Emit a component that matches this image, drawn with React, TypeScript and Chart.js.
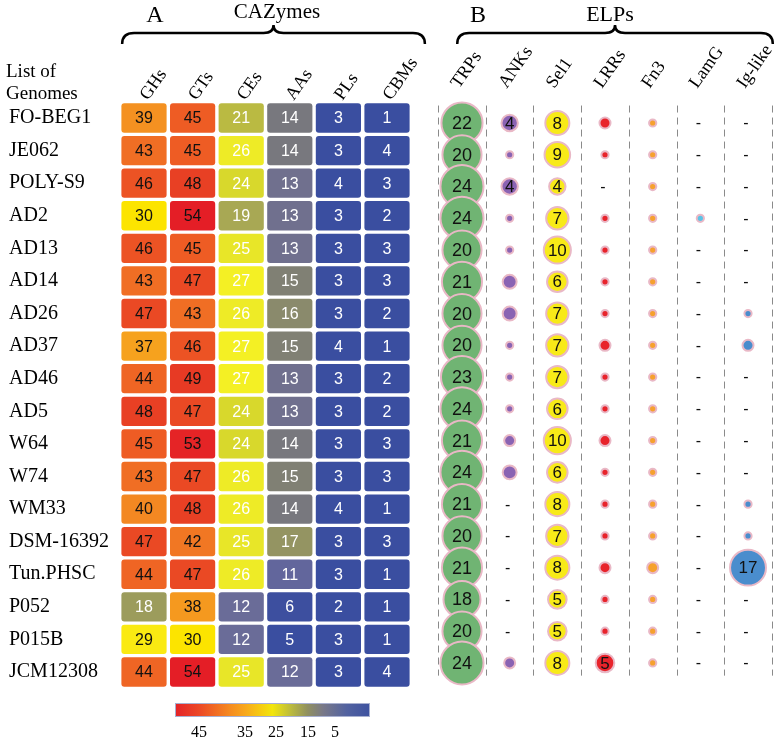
import React, { useEffect, useRef } from 'react';
import { Chart, registerables } from 'chart.js';

Chart.register(...registerables);

// ---------- DATA ----------
const genomes = ['FO-BEG1', 'JE062', 'POLY-S9', 'AD2', 'AD13', 'AD14', 'AD26', 'AD37', 'AD46', 'AD5', 'W64', 'W74', 'WM33', 'DSM-16392', 'Tun.PHSC', 'P052', 'P015B', 'JCM12308'];

const cazyCategories = ['GHs', 'GTs', 'CEs', 'AAs', 'PLs', 'CBMs'];
const GHs = [39, 43, 46, 30, 46, 43, 47, 37, 44, 48, 45, 43, 40, 47, 44, 18, 29, 44];
const GTs = [45, 45, 48, 54, 45, 47, 43, 46, 49, 47, 53, 47, 48, 42, 47, 38, 30, 54];
const CEs = [21, 26, 24, 19, 25, 27, 26, 27, 27, 24, 24, 26, 26, 25, 26, 12, 12, 25];
const AAs = [14, 14, 13, 13, 13, 15, 16, 15, 13, 13, 14, 15, 14, 17, 11, 6, 5, 12];
const PLs = [3, 3, 4, 3, 3, 3, 3, 4, 3, 3, 3, 3, 4, 3, 3, 2, 3, 3];
const CBMs = [1, 4, 3, 2, 3, 3, 2, 1, 2, 2, 3, 3, 1, 3, 1, 1, 1, 4];

const elpCategories = ['TRPs', 'ANKs', 'Sel1', 'LRRs', 'Fn3', 'LamG', 'Ig-like'];
const TRPs = [22, 20, 24, 24, 20, 21, 20, 20, 23, 24, 21, 24, 21, 20, 21, 18, 20, 24];
const ANKs = [4, 1, 4, 1, 1, 3, 3, 1, 1, 1, 2, 3, 0, 0, 0, 0, 0, 2];
const Sel1 = [8, 9, 4, 7, 10, 6, 7, 7, 7, 6, 10, 6, 8, 7, 8, 5, 5, 8];
const LRRs = [2, 1, 0, 1, 1, 1, 1, 2, 1, 1, 2, 1, 1, 1, 2, 1, 1, 5];
const Fn3 = [1, 1, 1, 1, 1, 1, 1, 1, 1, 1, 1, 1, 1, 1, 2, 1, 1, 1];
const LamG = [0, 0, 0, 1, 0, 0, 0, 0, 0, 0, 0, 0, 0, 0, 0, 0, 0, 0];
const IgLike = [0, 0, 0, 0, 0, 0, 1, 2, 0, 0, 0, 0, 1, 1, 17, 0, 0, 0];

const colorbarTicks = [45, 35, 25, 15, 5];

// ---------- STYLE ----------
const cazySeries = [GHs, GTs, CEs, AAs, PLs, CBMs];
const elpSeries = [TRPs, ANKs, Sel1, LRRs, Fn3, LamG, IgLike];
const elpColors = ['#70b473', '#8a63b3', '#f8ea18', '#e8232b', '#f6a12e', '#5ac3e6', '#4a8dcd'];
const bubbleBorder = '#e9b8c6';

const heatStops: [number, number[]][] = [
  [5, [58, 78, 160]],
  [8, [66, 82, 158]],
  [11, [98, 102, 156]],
  [12, [106, 108, 152]],
  [13, [112, 112, 142]],
  [14, [120, 120, 126]],
  [15, [128, 128, 116]],
  [16, [138, 138, 108]],
  [17, [148, 148, 98]],
  [18, [156, 156, 92]],
  [19, [168, 168, 84]],
  [21, [186, 186, 66]],
  [24, [216, 216, 44]],
  [25, [232, 230, 40]],
  [27, [244, 240, 36]],
  [29, [250, 234, 18]],
  [30, [252, 228, 0]],
  [37, [246, 162, 30]],
  [40, [243, 136, 34]],
  [43, [240, 110, 36]],
  [45, [238, 92, 36]],
  [48, [232, 64, 36]],
  [54, [228, 30, 38]],
];

function heatColor(v: number): string {
  if (v <= heatStops[0][0]) return `rgb(${heatStops[0][1].join(',')})`;
  for (let i = 1; i < heatStops.length; i++) {
    const [v1, c1] = heatStops[i];
    const [v0, c0] = heatStops[i - 1];
    if (v <= v1) {
      const t = (v - v0) / (v1 - v0);
      const c = c0.map((a, k) => Math.round(a + (c1[k] - a) * t));
      return `rgb(${c.join(',')})`;
    }
  }
  return `rgb(${heatStops[heatStops.length - 1][1].join(',')})`;
}

const bubbleRadius = (v: number) => 4.6 * Math.sqrt(v) - 1;

const cbLeft = 175, cbTop = 703, cbWidth = 195, cbHeight = 14;
const cbLabelX = [199, 245, 276, 308, 335];

function drawBrace(ctx: CanvasRenderingContext2D, x0: number, x1: number) {
  const xm = (x0 + x1) / 2;
  const yEnd = 44, yLine = 33, yTip = 25;
  ctx.save();
  ctx.strokeStyle = '#000';
  ctx.lineWidth = 2.5;
  ctx.beginPath();
  ctx.moveTo(x0, yEnd);
  ctx.quadraticCurveTo(x0, yLine, x0 + 12, yLine);
  ctx.lineTo(xm - 10, yLine);
  ctx.quadraticCurveTo(xm, yLine, xm, yTip);
  ctx.quadraticCurveTo(xm, yLine, xm + 10, yLine);
  ctx.lineTo(x1 - 12, yLine);
  ctx.quadraticCurveTo(x1, yLine, x1, yEnd);
  ctx.stroke();
  ctx.restore();
}

const customPlugin = {
  id: 'customDraw',
  beforeDatasetsDraw(chart: any) {
    const { ctx } = chart;
    const x = chart.scales.x, y = chart.scales.y, xb = chart.scales.xb, yb = chart.scales.yb;
    const band = y.getPixelForValue(1) - y.getPixelForValue(0);
    ctx.save();
    cazySeries.forEach((series, c) => {
      series.forEach((v, r) => {
        const cx = x.getPixelForValue(c);
        const cy = y.getPixelForValue(r);
        const left = x.getPixelForValue(c - 0.465);
        const right = x.getPixelForValue(c + 0.465);
        const h = band * 0.9;
        ctx.fillStyle = heatColor(v);
        ctx.beginPath();
        ctx.roundRect(left, cy - h / 2, right - left, h, 3);
        ctx.fill();
        ctx.fillStyle = v >= 28 ? '#111' : '#fff';
        ctx.font = '16px "Liberation Sans", Arial, sans-serif';
        ctx.textAlign = 'center';
        ctx.textBaseline = 'middle';
        ctx.fillText(String(v), cx, cy + 1);
      });
    });
    // dashed separators
    ctx.setLineDash([7, 5]);
    ctx.strokeStyle = '#8a8a8a';
    ctx.lineWidth = 1;
    for (let k = 0; k <= elpCategories.length; k++) {
      const px = Math.round(xb.getPixelForValue(k - 0.5)) + 0.5;
      ctx.beginPath();
      ctx.moveTo(px, yb.getPixelForValue(-0.55));
      ctx.lineTo(px, yb.getPixelForValue(17.4));
      ctx.stroke();
    }
    ctx.restore();
  },
  afterDatasetsDraw(chart: any) {
    const { ctx } = chart;
    const xb = chart.scales.xb, yb = chart.scales.yb;
    ctx.save();
    ctx.textAlign = 'center';
    ctx.textBaseline = 'middle';
    elpSeries.forEach((series, c) => {
      series.forEach((v, r) => {
        const px = xb.getPixelForValue(c);
        const py = yb.getPixelForValue(r);
        if (v === 0) {
          ctx.fillStyle = '#111';
          ctx.font = '16px "Liberation Sans", Arial, sans-serif';
          ctx.fillText('-', px - 2, py + 1);
        } else if (v >= 4) {
          ctx.fillStyle = '#111';
          ctx.font = (c === 0 ? '18px' : '17px') + ' "Liberation Sans", Arial, sans-serif';
          ctx.fillText(String(v), px, py + 1);
        }
      });
    });
    ctx.restore();
  },
  afterDraw(chart: any) {
    const { ctx } = chart;
    const x = chart.scales.x, xb = chart.scales.xb;
    ctx.save();
    ctx.fillStyle = '#000';
    // column headers
    ctx.font = '18px "Liberation Serif", "Times New Roman", serif';
    ctx.textAlign = 'left';
    ctx.textBaseline = 'alphabetic';
    const ang = -55 * Math.PI / 180;
    cazyCategories.forEach((lab, c) => {
      ctx.save();
      ctx.translate(x.getPixelForValue(c) + 4, 101);
      ctx.rotate(ang);
      ctx.fillText(lab, 0, 0);
      ctx.restore();
    });
    elpCategories.forEach((lab, c) => {
      ctx.save();
      ctx.translate(xb.getPixelForValue(c) - 3, 89);
      ctx.rotate(ang);
      ctx.fillText(lab, 0, 0);
      ctx.restore();
    });
    // List of Genomes
    ctx.font = '19px "Liberation Serif", "Times New Roman", serif';
    ctx.fillText('List of', 6, 77);
    ctx.fillText('Genomes', 6, 99);
    // group titles
    ctx.textAlign = 'center';
    ctx.font = '24px "Liberation Serif", "Times New Roman", serif';
    ctx.fillText('A', 155, 22);
    ctx.fillText('B', 478, 22);
    ctx.font = '21px "Liberation Serif", "Times New Roman", serif';
    ctx.fillText('CAZymes', 277, 18);
    ctx.font = '22px "Liberation Serif", "Times New Roman", serif';
    ctx.fillText('ELPs', 610, 21);
    // braces
    drawBrace(ctx, x.getPixelForValue(-0.45), x.getPixelForValue(5.78));
    drawBrace(ctx, xb.getPixelForValue(-0.1), xb.getPixelForValue(6.52));
    // colour bar
    const g = ctx.createLinearGradient(cbLeft, 0, cbLeft + cbWidth, 0);
    g.addColorStop(0, '#e42228');
    g.addColorStop(0.13, '#ec4a26');
    g.addColorStop(0.28, '#f58a20');
    g.addColorStop(0.36, '#f8a81c');
    g.addColorStop(0.44, '#f6cc10');
    g.addColorStop(0.5, '#f2e60c');
    g.addColorStop(0.6, '#b8b840');
    g.addColorStop(0.68, '#909060');
    g.addColorStop(0.76, '#787888');
    g.addColorStop(0.88, '#5262a0');
    g.addColorStop(1, '#3e52a0');
    ctx.fillStyle = g;
    ctx.fillRect(cbLeft, cbTop, cbWidth, cbHeight);
    ctx.strokeStyle = '#a8b0d0';
    ctx.lineWidth = 1;
    ctx.strokeRect(cbLeft + 0.5, cbTop + 0.5, cbWidth - 1, cbHeight - 1);
    ctx.fillStyle = '#000';
    ctx.font = '16px "Liberation Serif", "Times New Roman", serif';
    colorbarTicks.forEach((t, i) => ctx.fillText(String(t), cbLabelX[i], 737));
    ctx.restore();
  },
};

export default function App() {
  const ref = useRef<HTMLCanvasElement | null>(null);

  useEffect(() => {
    if (!ref.current) return;
    const datasets = elpSeries.map((series, c) => ({
      label: elpCategories[c],
      data: series
        .map((v, r) => ({ x: c, y: r, r: bubbleRadius(v), v }))
        .filter((p) => p.v > 0),
      backgroundColor: elpColors[c],
      borderColor: bubbleBorder,
      borderWidth: 2,
      xAxisID: 'xb',
      yAxisID: 'yb',
      clip: false as any,
    }));
    const chart = new Chart(ref.current, {
      type: 'bubble',
      data: { datasets },
      options: {
        animation: false,
        responsive: false,
        events: [],
        layout: { autoPadding: false, padding: { left: 9, top: 101.7, bottom: 52.7, right: 0 } },
        plugins: { legend: { display: false }, tooltip: { enabled: false } },
        scales: {
          x: { type: 'linear', axis: 'x', display: false, min: -0.535, max: 13.004 },
          xb: { type: 'linear', axis: 'x', display: false, min: -7.216, max: 6.587 },
          y: {
            type: 'category',
            axis: 'y',
            labels: genomes,
            offset: true,
            position: 'left',
            grid: { display: false },
            border: { display: false },
            ticks: {
              color: '#000',
              crossAlign: 'far',
              padding: 0,
              font: { family: '"Liberation Serif", "Times New Roman", serif', size: 20 },
            },
            afterFit: (scale: any) => { scale.width = 109; },
          } as any,
          yb: { type: 'linear', axis: 'y', display: false, reverse: true, min: -0.671, max: 17.799 },
        },
      } as any,
      plugins: [customPlugin],
    });
    return () => chart.destroy();
  }, []);

  return (
    <div style={{ position: 'absolute', left: 0, top: 0, width: 776, height: 741, background: '#fff' }}>
      <canvas ref={ref} width={776} height={741} style={{ display: 'block' }} />
    </div>
  );
}
